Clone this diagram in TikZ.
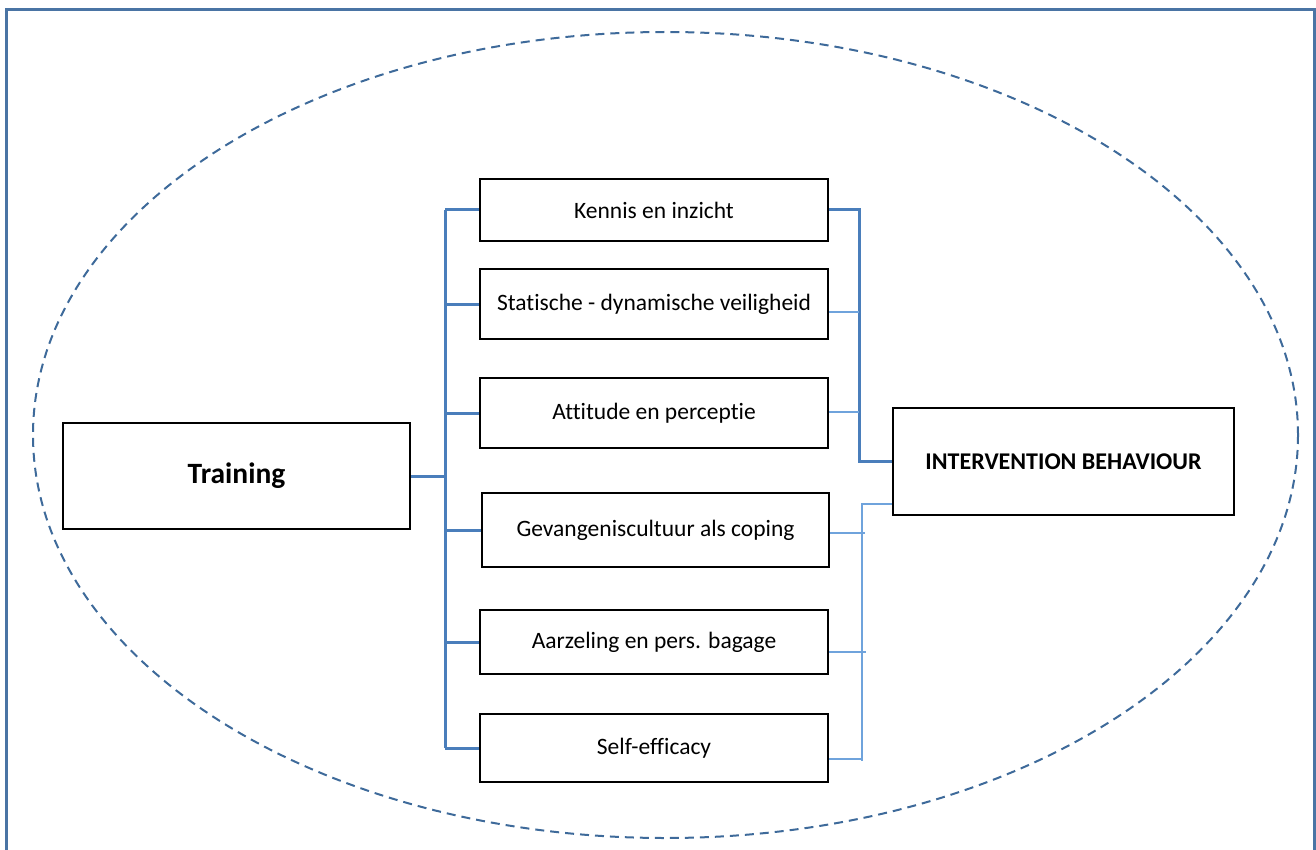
\documentclass[tikz,border=0pt]{standalone}
\usepackage{fontspec}
\setmainfont{Carlito}[Ligatures={NoCommon}]
\definecolor{framec}{HTML}{4A74A4}
\definecolor{linkc}{HTML}{4A7EBB}
\definecolor{thinc}{HTML}{6FA3DC}
\definecolor{ovalc}{HTML}{3E6A9A}
\begin{document}
\begin{tikzpicture}[x=1pt,y=-1pt,
  factor/.style={draw=black,line width=2.8pt,fill=white,inner sep=0pt,font=\fontsize{23.5}{28}\selectfont},
  thick link/.style={draw=linkc,line width=3pt},
  thin link/.style={draw=thinc,line width=1.5pt}]
\useasboundingbox (0,0) rectangle (1316,850);
\clip (0,0) rectangle (1316,850);
% outer frame and dashed oval
\draw[framec,line width=3pt] (6,10) rectangle (1314,870);
\draw[ovalc,line width=2pt,dash pattern=on 9pt off 6pt] (665.5,435) ellipse [x radius=632.5,y radius=403];
% boxes
\node[factor,minimum width=347pt,minimum height=106pt,font=\fontsize{29.5}{34}\selectfont\bfseries] (train) at (236.5,476) {Training};
\node[factor,minimum width=348pt,minimum height=62pt] (k1) at (654,210) {Kennis en inzicht};
\node[factor,minimum width=348pt,minimum height=70pt] (k2) at (654,304) {Statische - dynamische veiligheid};
\node[factor,minimum width=348pt,minimum height=70pt] (k3) at (654,413) {Attitude en perceptie};
\node[factor,minimum width=347pt,minimum height=74pt] (k4) at (655.5,530) {Gevangeniscultuur als coping};
\node[factor,minimum width=348pt,minimum height=64pt] (k5) at (654,642) {Aarzeling en pers. bagage};
\node[factor,minimum width=348pt,minimum height=68pt] (k6) at (654,748) {Self-efficacy};
\node[factor,minimum width=341pt,minimum height=107pt,font=\fontsize{24}{28}\selectfont\bfseries] (ib) at (1063.5,461.5) {INTERVENTION BEHAVIOUR};
% junction points
\coordinate (lx) at (445,0);
\coordinate (rx) at (859,0);
\coordinate (sx) at (862,0);
% training fans out to the six factors
\draw[thick link] (train.east |- 0,476) -- (lx |- 0,476);
\draw[thick link] (lx |- k1.west) -- (lx |- k6.west);
\foreach \k in {k1,k2,k3,k4,k5,k6}
  \draw[thick link] (lx |- \k.west) -- (\k.west);
% upper factors join into intervention behaviour
\draw[thick link] (k1.east) -- (rx |- k1.east) -- (rx |- 0,461) -- (ib.west |- 0,461);
\draw[thin link] (k2.east |- 0,312) -- (rx |- 0,312);
\draw[thin link] (k3.east |- 0,412) -- (rx |- 0,412);
% lower factors join into intervention behaviour
\draw[thin link] (ib.west |- 0,504) -- (sx |- 0,504) -- (sx |- 0,761);
\draw[thin link] (k4.east |- 0,533) -- (865,533);
\draw[thin link] (k5.east |- 0,652) -- (866,652);
\draw[thin link] (k6.east |- 0,759) -- (863,759);
\end{tikzpicture}
\end{document}
